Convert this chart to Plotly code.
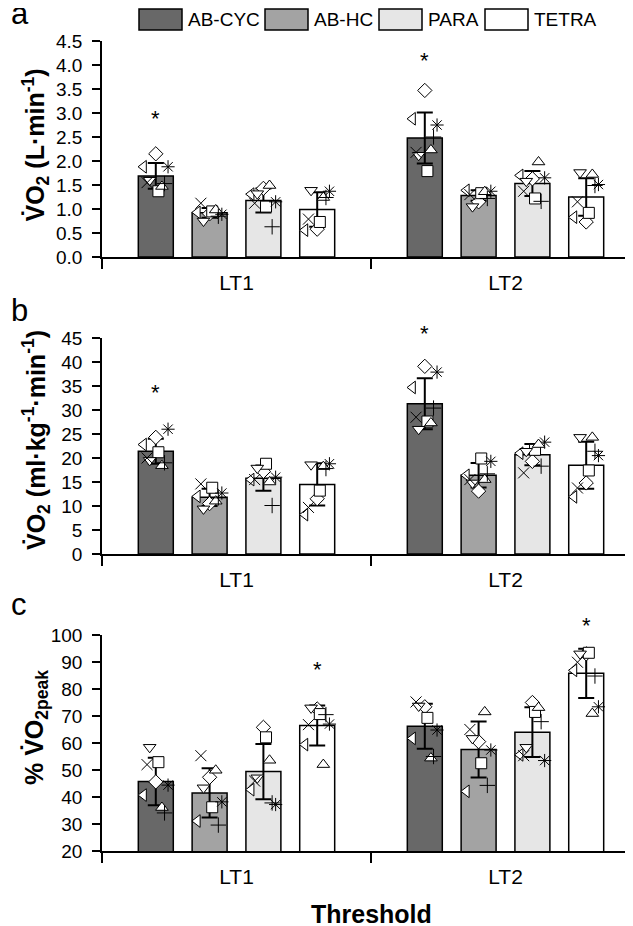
import plotly.graph_objects as go

# ---------------- data ----------------
groups = ["AB-CYC", "AB-HC", "PARA", "TETRA"]
thresholds = ["LT1", "LT2"]
bar_colors = ["#686868", "#a3a3a3", "#e6e6e6", "#ffffff"]

# subject marker symbols (same order as the individual values below)
subject_symbols = ["diamond", "triangle-left", "square", "asterisk",
                   "triangle-up", "triangle-down", "cross-thin", "x-thin"]

# Panel a: VO2 (L/min)
abs_mean_lt1 = [1.69, 0.92, 1.18, 0.99]
abs_mean_lt2 = [2.48, 1.28, 1.53, 1.25]
abs_sd_lt1 = [0.27, 0.10, 0.25, 0.36]
abs_sd_lt2 = [0.53, 0.11, 0.26, 0.39]
abs_lt1_abcyc = [2.15, 1.88, 1.37, 1.88, 1.47, 1.60, 1.53, 1.55]
abs_lt1_abhc = [0.90, 0.93, 0.95, 0.89, 0.98, 0.75, 0.85, 1.12]
abs_lt1_para = [1.43, 1.31, 1.05, 1.15, 1.49, 1.32, 0.63, 1.12]
abs_lt1_tetra = [0.58, 0.56, 0.73, 1.37, 1.24, 1.39, 1.24, 0.79]
abs_lt2_abcyc = [3.47, 2.88, 1.79, 2.75, 2.23, 2.12, 2.50, 2.18]
abs_lt2_abhc = [1.15, 1.39, 1.33, 1.37, 1.36, 1.05, 1.22, 1.30]
abs_lt2_para = [1.63, 1.70, 1.22, 1.65, 1.98, 1.58, 1.16, 1.37]
abs_lt2_tetra = [0.73, 0.83, 0.92, 1.51, 1.72, 1.76, 1.49, 1.15]
abs_sig = [("AB-CYC", 0, 2.89), ("AB-CYC", 1, 4.10)]

# Panel b: VO2 (ml/kg/min)
rel_mean_lt1 = [21.4, 11.8, 15.8, 14.5]
rel_mean_lt2 = [31.3, 16.4, 20.7, 18.5]
rel_sd_lt1 = [2.6, 1.8, 2.65, 4.4]
rel_sd_lt2 = [5.3, 2.55, 2.2, 4.9]
rel_lt1_abcyc = [24.3, 22.8, 21.2, 26.0, 18.4, 19.5, 19.0, 20.0]
rel_lt1_abhc = [10.5, 12.0, 13.8, 12.7, 11.0, 9.4, 11.7, 14.6]
rel_lt1_para = [17.2, 15.5, 18.8, 16.0, 15.0, 17.9, 10.1, 15.5]
rel_lt1_tetra = [11.5, 8.2, 13.2, 18.8, 18.2, 18.6, 17.8, 9.7]
rel_lt2_abcyc = [39.1, 34.7, 27.6, 37.9, 27.3, 26.0, 30.4, 28.5]
rel_lt2_abhc = [13.1, 16.4, 19.9, 19.3, 15.5, 14.8, 16.7, 15.5]
rel_lt2_para = [19.3, 21.0, 21.7, 23.3, 22.8, 21.4, 18.3, 16.9]
rel_lt2_tetra = [14.8, 11.9, 17.4, 20.5, 24.3, 24.3, 21.4, 13.75]
rel_sig = [("AB-CYC", 0, 33.75), ("AB-CYC", 1, 46.0)]

# Panel c: % VO2peak
pct_mean_lt1 = [45.7, 41.5, 49.4, 66.5]
pct_mean_lt2 = [66.2, 57.6, 64.0, 85.8]
pct_sd_lt1 = [8.8, 9.1, 10.2, 7.4]
pct_sd_lt2 = [8.3, 10.4, 9.2, 9.1]
pct_lt1_abcyc = [45.6, 40.7, 52.9, 44.4, 36.1, 58.4, 34.1, 52.0]
pct_lt1_abhc = [47.3, 31.1, 36.2, 38.2, 49.9, 43.4, 29.6, 55.3]
pct_lt1_para = [65.8, 42.7, 62.1, 37.2, 53.6, 47.1, 37.8, 45.9]
pct_lt1_tetra = [72.6, 59.4, 70.7, 67.0, 52.0, 73.0, 70.5, 66.8]
pct_lt2_abcyc = [73.4, 61.7, 69.3, 64.8, 54.4, 73.7, 55.0, 75.2]
pct_lt2_abhc = [60.5, 42.1, 52.5, 57.4, 71.5, 61.7, 44.3, 65.0]
pct_lt2_para = [75.0, 55.6, 71.5, 53.5, 73.1, 58.4, 67.9, 55.3]
pct_lt2_tetra = [93.0, 86.9, 93.4, 73.4, 70.9, 93.0, 84.8, 89.9]
pct_sig = [("TETRA", 0, 87.3), ("TETRA", 1, 103.4)]

y_ticks_a = [0, 0.5, 1.0, 1.5, 2.0, 2.5, 3.0, 3.5, 4.0, 4.5]
y_ticks_b = [0, 5, 10, 15, 20, 25, 30, 35, 40, 45]
y_ticks_c = [20, 30, 40, 50, 60, 70, 80, 90, 100]

panels = [
    dict(means=[abs_mean_lt1, abs_mean_lt2], sds=[abs_sd_lt1, abs_sd_lt2],
         pts=[[abs_lt1_abcyc, abs_lt1_abhc, abs_lt1_para, abs_lt1_tetra],
              [abs_lt2_abcyc, abs_lt2_abhc, abs_lt2_para, abs_lt2_tetra]],
         sig=abs_sig, ticks=y_ticks_a, fmt=".1f",
         title="V̇O<sub>2</sub> (L·min<sup>-1</sup>)", letter="a"),
    dict(means=[rel_mean_lt1, rel_mean_lt2], sds=[rel_sd_lt1, rel_sd_lt2],
         pts=[[rel_lt1_abcyc, rel_lt1_abhc, rel_lt1_para, rel_lt1_tetra],
              [rel_lt2_abcyc, rel_lt2_abhc, rel_lt2_para, rel_lt2_tetra]],
         sig=rel_sig, ticks=y_ticks_b, fmt="d",
         title="V̇O<sub>2</sub> (ml·kg<sup>-1</sup>·min<sup>-1</sup>)", letter="b"),
    dict(means=[pct_mean_lt1, pct_mean_lt2], sds=[pct_sd_lt1, pct_sd_lt2],
         pts=[[pct_lt1_abcyc, pct_lt1_abhc, pct_lt1_para, pct_lt1_tetra],
              [pct_lt2_abcyc, pct_lt2_abhc, pct_lt2_para, pct_lt2_tetra]],
         sig=pct_sig, ticks=y_ticks_c, fmt="d",
         title="% V̇O<sub>2peak</sub>", letter="c"),
]

# ---------------- style / layout ----------------
W, H = 633, 926
ML, MR, MT, MB = 94, 1, 33, 83
PW, PH = W - ML - MR, H - MT - MB
FONT = "Liberation Sans, Arial, sans-serif"
BARGAP, BARGROUPGAP = 0.2, 0.35
slot = (1 - BARGAP) / len(groups)
half_bar = slot * (1 - BARGROUPGAP) / 2
# horizontal spread of subject markers within a bar (fraction of half bar width)
spread = [0.0, -0.7, 0.15, 0.7, 0.35, -0.35, 0.5, -0.5]
domains = [[0.7333, 1.0], [0.3667, 0.6333], [0.0, 0.2667]]


def px_x(px):
    return (px - ML) / PW


def px_y(py):
    return (H - MB - py) / PH


def group_offset(g):
    return (g - (len(groups) - 1) / 2) * slot


fig = go.Figure()

for p, panel in enumerate(panels):
    n = p + 1
    xa = "x" if n == 1 else f"x{n}"
    ya = "y" if n == 1 else f"y{n}"
    xo = f"x{n + 3}"
    lo, hi = panel["ticks"][0], panel["ticks"][-1]
    for g, grp in enumerate(groups):
        fig.add_trace(go.Bar(
            x=thresholds,
            y=[panel["means"][t][g] for t in range(2)],
            error_y=dict(type="data", array=[panel["sds"][t][g] for t in range(2)],
                         color="black", thickness=2, width=8),
            marker=dict(color=bar_colors[g], line=dict(color="black", width=1.5)),
            name=grp, showlegend=False, xaxis=xa, yaxis=ya,
        ))
    # individual subject points
    for s, sym in enumerate(subject_symbols):
        xs, ys = [], []
        for t in range(2):
            for g in range(len(groups)):
                xs.append(t + group_offset(g) + spread[s] * half_bar)
                ys.append(panel["pts"][t][g][s])
        fig.add_trace(go.Scatter(
            x=xs, y=ys, mode="markers", xaxis=xo, yaxis=ya, showlegend=False,
            cliponaxis=False,
            marker=dict(symbol=sym, size=11, color="white",
                        line=dict(color="black", width=1)),
        ))
    # significance asterisks (axis-domain reference so they may sit above the range)
    for gname, t, v in panel["sig"]:
        fig.add_annotation(
            x=t + group_offset(groups.index(gname)), xref=xo,
            y=(v - lo) / (hi - lo), yref=f"{ya} domain",
            text="*", showarrow=False, xanchor="center", yanchor="middle",
            font=dict(size=22, color="black", family=FONT),
        )

layout = dict(
    width=W, height=H, margin=dict(l=ML, r=MR, t=MT, b=MB),
    paper_bgcolor="white", plot_bgcolor="white",
    barmode="group", bargap=BARGAP, bargroupgap=BARGROUPGAP,
    font=dict(family=FONT, color="black", size=19),
    showlegend=False,
)

for p, panel in enumerate(panels):
    n = p + 1
    xk = "xaxis" if n == 1 else f"xaxis{n}"
    yk = "yaxis" if n == 1 else f"yaxis{n}"
    ya = "y" if n == 1 else f"y{n}"
    xa = "x" if n == 1 else f"x{n}"
    ticks = panel["ticks"]
    layout[xk] = dict(
        type="category", anchor=ya, domain=[0, 1], range=[-0.5, 1.5],
        showline=True, linecolor="black", linewidth=1.5,
        ticks="outside", tickson="boundaries", ticklen=10, tickwidth=1.5, tickcolor="black",
        tickfont=dict(size=21, family=FONT), ticklabelstandoff=6,
        showgrid=False, zeroline=False, fixedrange=True,
    )
    layout[f"xaxis{n + 3}"] = dict(
        overlaying=xa, anchor=ya, range=[-0.5, 1.5], visible=False, fixedrange=True,
    )
    layout[yk] = dict(
        domain=domains[p], anchor=xa, range=[ticks[0], ticks[-1]],
        tickvals=ticks, tickformat=panel["fmt"],
        showline=True, linecolor="black", linewidth=1.5,
        ticks="outside", ticklen=8, tickwidth=1.5, tickcolor="black",
        tickfont=dict(size=19, family=FONT), ticklabelstandoff=6,
        showgrid=False, zeroline=False, fixedrange=True,
    )

fig.update_layout(**layout)

# y-axis titles and panel letters
title_centers = [137.5, 432, 720]
letter_centers = [6, 302, 596]
for p, panel in enumerate(panels):
    fig.add_annotation(
        text=panel["title"], xref="paper", yref="paper",
        x=px_x(28), y=px_y(title_centers[p]), xanchor="center", yanchor="middle",
        textangle=-90, showarrow=False,
        font=dict(size=25, family=FONT, color="black", weight="bold"),
    )
    fig.add_annotation(
        text=panel["letter"], xref="paper", yref="paper",
        x=px_x(1), y=px_y(letter_centers[p]), xanchor="left", yanchor="middle",
        showarrow=False, font=dict(size=31, family=FONT, color="black"),
    )

# x-axis title
fig.add_annotation(
    text="Threshold", xref="paper", yref="paper", x=0.5, y=px_y(906),
    xanchor="center", yanchor="middle", showarrow=False,
    font=dict(size=25, family=FONT, color="black", weight="bold"),
)

# legend drawn as boxes + labels at the top
legend_box_left = [131, 257, 371, 477]
box_w, box_top, box_bot = 43, 1, 22
for g, grp in enumerate(groups):
    x0 = legend_box_left[g]
    fig.add_shape(
        type="rect", xref="paper", yref="paper",
        x0=px_x(x0), x1=px_x(x0 + box_w), y0=px_y(box_bot), y1=px_y(box_top),
        fillcolor=bar_colors[g], line=dict(color="black", width=1.5),
    )
    fig.add_annotation(
        text=grp, xref="paper", yref="paper", x=px_x(x0 + box_w + 4), y=px_y(11.5),
        xanchor="left", yanchor="middle", showarrow=False,
        font=dict(size=19, family=FONT, color="black"),
    )

fig.write_html("out.html")
